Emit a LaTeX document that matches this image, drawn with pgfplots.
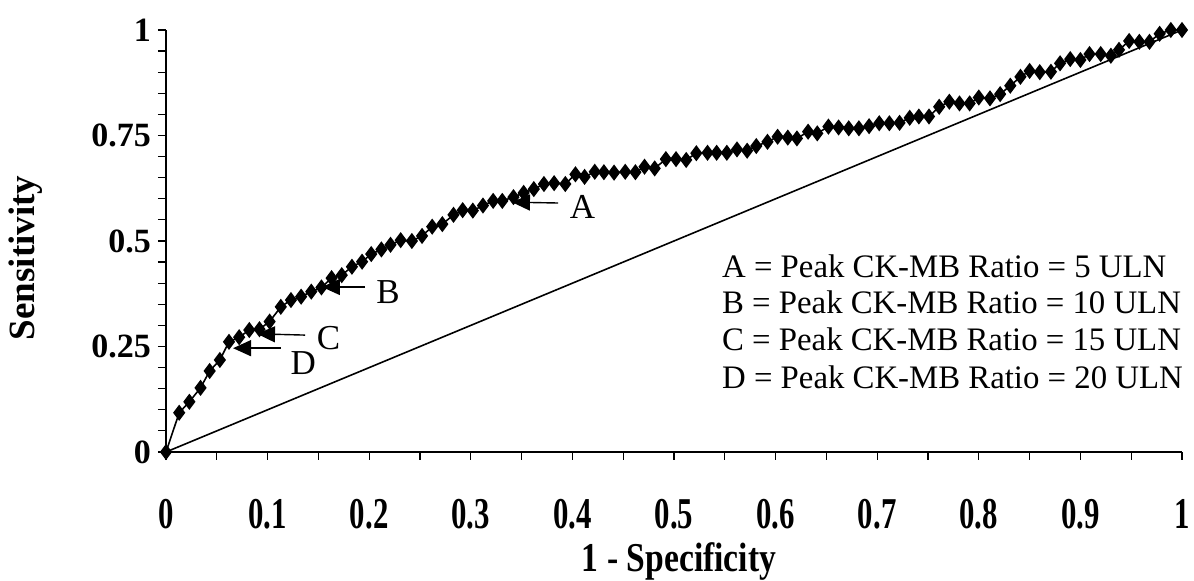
\documentclass[border=0pt]{standalone}
\usepackage{fontspec}
\setmainfont{Liberation Serif}
\usepackage{pgfplots}
\pgfplotsset{compat=1.18}
\usetikzlibrary{arrows.meta}

% x tick labels in the scan are tall and narrow
\newcommand{\xtl}[1]{\scalebox{0.7}[1]{\fontsize{22}{22}\selectfont\bfseries #1}}

\begin{document}
\begin{tikzpicture}
\begin{axis}[
    name=ax,
    scale only axis,
    width=508pt, height=211pt,
    xmin=0, xmax=1, ymin=0, ymax=1,
    axis lines=left,
    axis line style={-, line width=0.8pt},
    xtick={0,0.1,0.2,0.3,0.4,0.5,0.6,0.7,0.8,0.9,1},
    xticklabels={\xtl{0},\xtl{0.1},\xtl{0.2},\xtl{0.3},\xtl{0.4},\xtl{0.5},\xtl{0.6},\xtl{0.7},\xtl{0.8},\xtl{0.9},\xtl{1}},
    minor x tick num=1,
    ytick={0,0.25,0.5,0.75,1},
    yticklabels={0,0.25,0.5,0.75,1},
    minor y tick num=4,
    tick align=outside,
    major tick length=4pt, minor tick length=4pt,
    tick style={black, line width=0.6pt},
    yticklabel style={font=\fontsize{17}{17}\selectfont\bfseries},
    xticklabel style={yshift=-16pt},
    clip=false,
]
\addplot[black, line width=0.8pt] coordinates {(0,0) (1,1)};

\addplot[black, line width=0.8pt, mark=diamond*, mark size=3.4pt] coordinates {
(0,0) (0.013,0.093) (0.023,0.119) (0.034,0.152) (0.043,0.192) (0.053,0.218)
(0.062,0.261) (0.072,0.272) (0.082,0.289) (0.092,0.291) (0.102,0.309)
(0.113,0.344) (0.123,0.360) (0.133,0.368) (0.143,0.380) (0.153,0.390)
(0.163,0.412) (0.173,0.419) (0.183,0.439) (0.193,0.451) (0.202,0.469)
(0.212,0.480) (0.221,0.491) (0.231,0.502) (0.242,0.500) (0.252,0.512)
(0.262,0.534) (0.272,0.540) (0.283,0.562) (0.292,0.573) (0.302,0.572)
(0.312,0.584) (0.322,0.595) (0.331,0.595) (0.342,0.604) (0.352,0.614)
(0.362,0.623) (0.372,0.635) (0.382,0.637) (0.393,0.635) (0.403,0.658)
(0.412,0.652) (0.422,0.664) (0.431,0.663) (0.441,0.662) (0.452,0.664)
(0.462,0.663) (0.471,0.676) (0.481,0.672) (0.492,0.694) (0.502,0.694)
(0.512,0.692) (0.522,0.708) (0.533,0.709) (0.542,0.709) (0.552,0.709)
(0.562,0.717) (0.572,0.714) (0.581,0.725) (0.592,0.735) (0.602,0.747)
(0.612,0.745) (0.621,0.743) (0.632,0.759) (0.641,0.755) (0.652,0.771)
(0.662,0.769) (0.672,0.767) (0.682,0.767) (0.692,0.772) (0.702,0.779)
(0.712,0.779) (0.722,0.780) (0.732,0.792) (0.741,0.795) (0.751,0.795)
(0.761,0.818) (0.771,0.830) (0.781,0.826) (0.791,0.826) (0.800,0.840)
(0.811,0.838) (0.821,0.848) (0.831,0.868) (0.841,0.889) (0.850,0.903)
(0.860,0.900) (0.871,0.901) (0.880,0.921) (0.890,0.931) (0.900,0.929)
(0.909,0.943) (0.920,0.943) (0.930,0.939) (0.938,0.953) (0.948,0.974)
(0.958,0.972) (0.968,0.972) (0.978,0.991) (0.989,1.0) (1.0,1.0)
};

% arrows pointing at the cut-offs
\draw[-{Triangle[length=9pt,width=8pt]}, line width=0.7pt] (axis cs:0.386,0.590) -- (axis cs:0.3405,0.592);
\draw[-{Triangle[length=9pt,width=8pt]}, line width=0.7pt] (axis cs:0.196,0.391) -- (axis cs:0.1535,0.391);
\draw[-{Triangle[length=9pt,width=8pt]}, line width=0.7pt] (axis cs:0.137,0.277) -- (axis cs:0.0896,0.280);
\draw[-{Triangle[length=9pt,width=8pt]}, line width=0.7pt] (axis cs:0.113,0.246) -- (axis cs:0.066,0.246);

\node[font=\fontsize{17.5}{17.5}\selectfont] at (axis cs:0.410,0.581) {A};
\node[font=\fontsize{17.5}{17.5}\selectfont] at (axis cs:0.2185,0.379) {B};
\node[font=\fontsize{17.5}{17.5}\selectfont] at (axis cs:0.160,0.271) {C};
\node[font=\fontsize{17.5}{17.5}\selectfont] at (axis cs:0.135,0.211) {D};

\node[anchor=west, inner sep=0pt, font=\fontsize{16.4}{18}\selectfont] at (axis cs:0.547,0.441) {A = Peak CK-MB Ratio = 5 ULN};
\node[anchor=west, inner sep=0pt, font=\fontsize{16.4}{18}\selectfont] at (axis cs:0.547,0.355) {B = Peak CK-MB Ratio = 10 ULN};
\node[anchor=west, inner sep=0pt, font=\fontsize{16.4}{18}\selectfont] at (axis cs:0.547,0.268) {C = Peak CK-MB Ratio = 15 ULN};
\node[anchor=west, inner sep=0pt, font=\fontsize{16.4}{18}\selectfont] at (axis cs:0.547,0.178) {D = Peak CK-MB Ratio = 20 ULN};

\node[rotate=90, font=\fontsize{18.5}{18.5}\selectfont\bfseries] at (rel axis cs:-0.138,0.46) {Sensitivity};
\node[font=\fontsize{20.5}{20.5}\selectfont\bfseries] at (rel axis cs:0.505,-0.259) {\scalebox{0.82}[1]{1 - Specificity}};
\end{axis}
\pgfresetboundingbox
\path (-83pt,-64.5pt) rectangle (514pt,226pt);
\end{tikzpicture}
\end{document}
